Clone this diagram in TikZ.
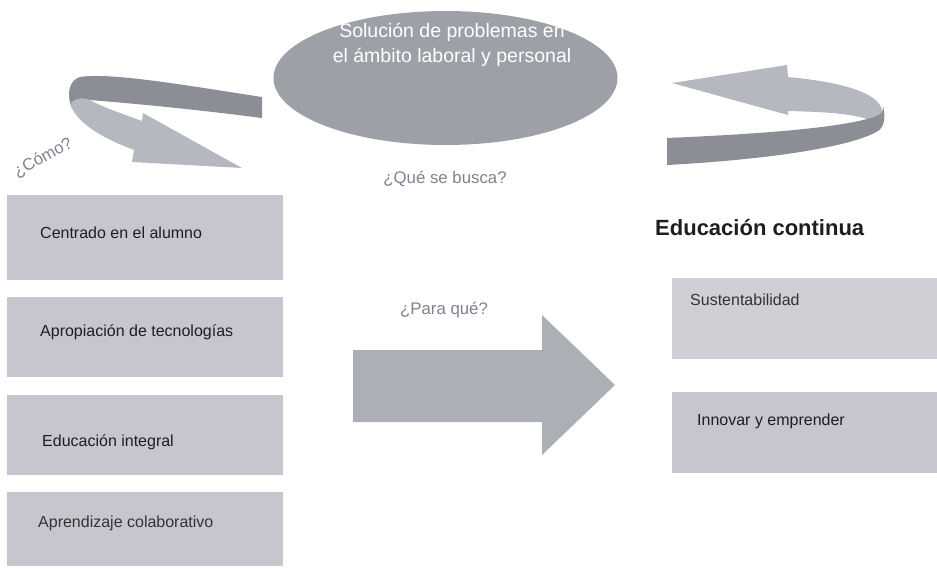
\documentclass[tikz,border=0pt]{standalone}
\usepackage{fontspec}
\setmainfont{Liberation Sans}
\definecolor{boxgray}{HTML}{C6C7CE}
\definecolor{rboxgray}{HTML}{CFD0D5}
\definecolor{ellgray}{HTML}{9EA0A8}
\definecolor{darkband}{HTML}{8C8E96}
\definecolor{lightband}{HTML}{B6B8C0}
\definecolor{arrowgray}{HTML}{ADAFB7}
\definecolor{qcolor}{HTML}{80808F}
\definecolor{txt}{HTML}{1E1E22}
\begin{document}
\begin{tikzpicture}[x=1pt,y=-1pt,
  lbox/.style={fill=boxgray, draw=none, minimum width=276pt, inner sep=0pt},
  rbox/.style={fill=rboxgray, draw=none, minimum width=265pt, minimum height=81pt, inner sep=0pt},
  btext/.style={anchor=west, inner sep=0pt, text=txt, font=\fontsize{16}{19}\selectfont},
  qtext/.style={inner sep=0pt, text=qcolor, font=\fontsize{16.8}{19}\selectfont}]
\useasboundingbox (0,0) rectangle (937,568);

% ellipse
\fill[ellgray] (445.5,78) ellipse [x radius=172, y radius=67];
\node[align=center, text=white, inner sep=0pt, font=\fontsize{19.5}{25}\selectfont] (etext) at (452,45) {Solución de problemas en\\el ámbito laboral y personal};

% top-left curved arrow
\fill[darkband] (262,97) .. controls (190,86) and (110,72) .. (80,77)
  .. controls (69,80) and (66,95) .. (72,108) -- (90,100)
  .. controls (140,104) and (200,110) .. (262,118) -- cycle;
\fill[lightband] (70,104) .. controls (78,126) and (108,140) .. (134,150)
  -- (132,162) -- (242,168) -- (143,113) -- (142,121)
  .. controls (120,113) and (100,106) .. (90,100)
  .. controls (82,97) and (74,98) .. (70,104) -- cycle;

% top-right curved arrow
\fill[lightband] (788,77) -- (787,65) -- (672,83) -- (788,115) -- (788,111)
  .. controls (830,112) and (862,114) .. (878,124)
  -- (882,110) .. controls (878,92) and (840,82) .. (788,77) -- cycle;
\fill[darkband] (667,138) .. controls (760,134) and (840,128) .. (874,117)
  .. controls (880,115) and (884,112) .. (883,106)
  .. controls (886,118) and (884,127) .. (878,131)
  .. controls (850,148) and (760,160) .. (667,165) -- cycle;

% labels
\node[qtext, rotate=29] (como) at (43,158) {¿Cómo?};
\node[qtext] (busca) at (445,179) {¿Qué se busca?};
\node[qtext] (para) at (444,310) {¿Para qué?};
\node[anchor=west, inner sep=0pt, text=txt, font=\bfseries\fontsize{22}{26}\selectfont] (cont) at (655,228) {Educación continua};

% left boxes
\node[lbox, minimum height=85pt] (b1) at (145,237.5) {};
\node[lbox, minimum height=80pt] (b2) at (145,337) {};
\node[lbox, minimum height=80pt] (b3) at (145,435) {};
\node[lbox, minimum height=74pt] (b4) at (145,529) {};
\node[btext] (t1) at (40,233) {Centrado en el alumno};
\node[btext] (t2) at (40,332) {Apropiación de tecnologías};
\node[btext] (t3) at (42,442) {Educación integral};
\node[btext, text=black!80] (t4) at (38,523) {Aprendizaje colaborativo};

% right boxes
\node[rbox] (r1) at (804.5,318.5) {};
\node[rbox, fill=boxgray] (r2) at (804.5,432) {};
\node[btext, text=black!80] (s1) at (690,300) {Sustentabilidad};
\node[btext] (s2) at (697,421) {Innovar y emprender};

% big arrow
\fill[arrowgray] (353,350) -- (542,350) -- (542,315) -- (615,385) -- (542,455) -- (542,422) -- (353,422) -- cycle;
\end{tikzpicture}
\end{document}
